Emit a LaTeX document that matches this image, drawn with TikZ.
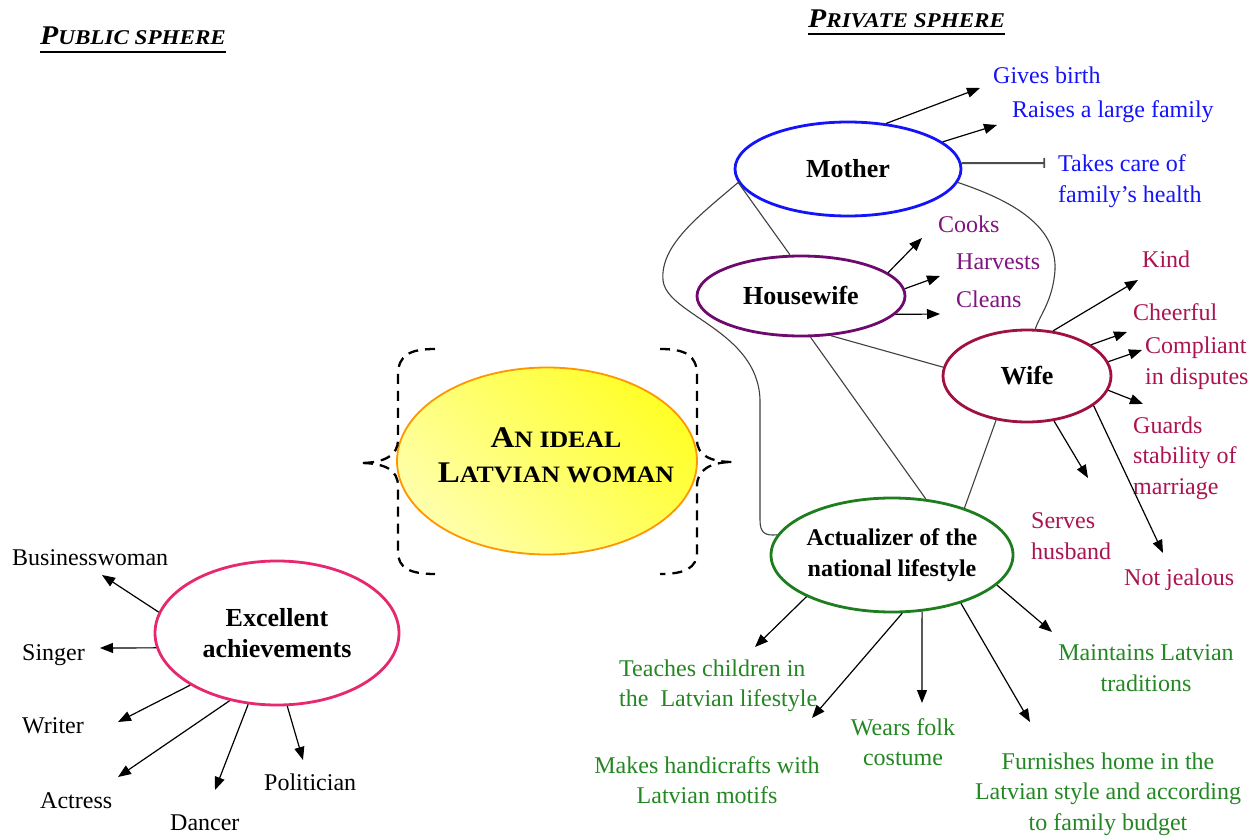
\documentclass[tikz,border=0pt]{standalone}
\usepackage{fontspec}
\setmainfont{Liberation Serif}
\newfontfamily\widefont{Liberation Serif}[FakeStretch=1.1]
\usetikzlibrary{shapes.geometric,arrows.meta}
\definecolor{mblue}{RGB}{20,20,250}
\definecolor{hpurple}{RGB}{110,10,110}
\definecolor{htext}{RGB}{128,20,128}
\definecolor{wred}{RGB}{160,16,64}
\definecolor{wtext}{RGB}{170,20,80}
\definecolor{agreen}{RGB}{30,125,30}
\definecolor{atext}{RGB}{35,135,35}
\definecolor{epink}{RGB}{232,40,110}
\definecolor{corange}{RGB}{255,150,0}
\definecolor{yellowA}{RGB}{255,255,40}
\definecolor{yellowB}{RGB}{255,255,170}
\begin{document}
\begin{tikzpicture}[x=1pt,y=-1pt,
  ell/.style={ellipse, draw, line width=2.8pt, inner sep=0pt, align=center, font=\fontsize{26}{31}\selectfont\bfseries},
  lab/.style={inner sep=0pt, font=\fontsize{24}{30.5}\selectfont},
  arr/.style={line width=1.2pt, -{Triangle[length=13pt,width=10pt]}},
  barr/.style={line width=2pt, draw=black!70, -{Bar[width=10pt,line width=1.6pt]}},
  link/.style={line width=1.1pt, draw=black!75},
  brace/.style={line width=2.3pt, dash pattern=on 10pt off 7pt},
  hdr/.style={inner sep=0pt, font=\widefont\bfseries\itshape},
  uline/.style={line width=2.2pt}
]
\fill[white] (0,0) rectangle (1255,837);
\useasboundingbox (0,0) rectangle (1255,837);

% headers
\node[hdr, anchor=base west] (pub) at (40,45) {{\fontsize{27}{30}\selectfont P}{\fontsize{21}{30}\selectfont UBLIC SPHERE}};
\draw[uline] ([yshift=-7pt]pub.base west) -- ([yshift=-7pt]pub.base east);
\node[hdr, anchor=base west] (priv) at (808,28) {{\fontsize{27}{30}\selectfont P}{\fontsize{21}{30}\selectfont RIVATE SPHERE}};
\draw[uline] ([yshift=-6pt]priv.base west) -- ([yshift=-6pt]priv.base east);

% central
\node[ellipse, draw=corange, line width=1.8pt, minimum width=300pt, minimum height=187pt, top color=yellowA, bottom color=yellowB, shading angle=-45] (ideal) at (547,461) {};
\node[inner sep=0pt, align=center, font=\widefont\bfseries\fontsize{30}{35}\selectfont] (idealtxt) at (556,455)
  {A{\fontsize{23.5}{35}\selectfont N IDEAL}\\L{\fontsize{23.5}{35}\selectfont ATVIAN WOMAN}};
\draw[brace] (435,349) .. controls (410,349) and (398,355) .. (398,375) -- (398,440) .. controls (398,455) and (385,463) .. (360,463) .. controls (385,463) and (398,470) .. (398,486) -- (398,552) .. controls (398,568) and (410,574) .. (435,574);
\draw[brace] (660,349) .. controls (685,349) and (697,355) .. (697,375) -- (697,440) .. controls (697,455) and (710,462) .. (733,462) .. controls (710,462) and (697,470) .. (697,486) -- (697,552) .. controls (697,568) and (685,574) .. (660,574);

% main nodes
\node[ell, draw=mblue, minimum width=226pt, minimum height=94pt] (mother) at (848,169) {Mother};
\node[ell, draw=hpurple, minimum width=208pt, minimum height=80pt] (house) at (801,296) {Housewife};
\node[ell, draw=wred, minimum width=168pt, minimum height=92pt] (wife) at (1027,376) {Wife};
\node[ell, draw=agreen, minimum width=242pt, minimum height=114pt, font=\fontsize{24}{31}\selectfont\bfseries] (act) at (892,555) {Actualizer of the\\national lifestyle};
\node[ell, draw=epink, minimum width=244pt, minimum height=144pt] (exc) at (277,633) {Excellent\\achievements};

% links
\draw[link] (mother.187) .. controls (700,215) and (660,245) .. (663,280) .. controls (666,315) and (758,330) .. (760,400) -- (760,520) .. controls (760,533) and (765,536) .. (act.170);
\draw[link] (mother.187) -- (house.105);
\draw[link] (mother.-7) .. controls (1010,200) and (1057,225) .. (1055,270) .. controls (1053,300) and (1040,315) .. (wife.80);
\draw[link] (house.-53) -- (wife.174);
\draw[link] (house.-77) -- (act.59);
\draw[link] (wife.235) -- (act.33);

% labels
\node[lab, text=mblue, anchor=west] (gb) at (993,75) {Gives birth};
\node[lab, text=mblue, anchor=west] (rf) at (1012,112) {Raises a large family};
\node[lab, text=mblue, anchor=west, align=left] (tc) at (1058,181) {Takes care of\\family’s health};
\node[lab, text=htext, anchor=west] (ck) at (938,224) {Cooks};
\node[lab, text=htext, anchor=west] (hv) at (956,262) {Harvests};
\node[lab, text=htext, anchor=west] (cl) at (956,299) {Cleans};
\node[lab, text=wtext, anchor=west] (ki) at (1142,259) {Kind};
\node[lab, text=wtext, anchor=west] (ch) at (1133,312) {Cheerful};
\node[lab, text=wtext, anchor=west, align=left] (co) at (1145,363) {Compliant\\in disputes};
\node[lab, text=wtext, anchor=west, align=left] (gu) at (1133,458) {Guards\\stability of\\marriage};
\node[lab, text=wtext, anchor=west, align=left] (se) at (1031,536) {Serves\\husband};
\node[lab, text=wtext, anchor=west] (nj) at (1124,580) {Not jealous};
\node[lab, text=atext, anchor=west, align=left] (te) at (619,686) {Teaches children in\\the~~Latvian lifestyle};
\node[lab, text=atext, align=center] (ma) at (707,780) {Makes handicrafts with\\Latvian motifs};
\node[lab, text=atext, align=center] (we) at (903,742) {Wears folk\\costume};
\node[lab, text=atext, align=center] (fu) at (1108,794) {Furnishes home in the\\Latvian style and according\\to family budget};
\node[lab, text=atext, align=center] (ml) at (1146,668) {Maintains Latvian\\traditions};
\node[lab, anchor=west] (bu) at (12,558) {Businesswoman};
\node[lab, anchor=west] (si) at (22,655) {Singer};
\node[lab, anchor=west] (wr) at (22,726) {Writer};
\node[lab, anchor=west] (ac) at (40,801) {Actress};
\node[lab, anchor=west] (da) at (170,823) {Dancer};
\node[lab, anchor=west] (po) at (264,782) {Politician};

% arrow tip coordinates
\coordinate (gbT) at (980,88);
\coordinate (rfT) at (997,125);
\coordinate (tcT) at (1045,163);
\coordinate (ckT) at (922,238);
\coordinate (hvT) at (940,276);
\coordinate (clT) at (940,314);
\coordinate (kiT) at (1138,280);
\coordinate (chT) at (1127,332);
\coordinate (coT) at (1142,350);
\coordinate (guT) at (1143,404);
\coordinate (seT) at (1088,478);
\coordinate (njT) at (1163,553);
\coordinate (teT) at (755,647);
\coordinate (maT) at (812,718);
\coordinate (weT) at (922,703);
\coordinate (fuT) at (1030,722);
\coordinate (mlT) at (1052,632);
\coordinate (buT) at (102,575);
\coordinate (siT) at (100,648);
\coordinate (wrT) at (118,722);
\coordinate (acT) at (118,777);
\coordinate (daT) at (215,790);
\coordinate (poT) at (303,760);

% arrows
\draw[arr] (mother.50) -- (gbT);
\draw[arr] (mother.16) -- (rfT);
\draw[barr] (mother.3) -- (tcT);
\draw[arr] (house.15) -- (ckT);
\draw[arr] (house.4) -- (hvT);
\draw[arr] (house.-11) -- (clT);
\draw[arr] (wife.60) -- (kiT);
\draw[arr] (wife.26) -- (chT);
\draw[arr] (wife.10) -- (coT);
\draw[arr] (wife.-10) -- (guT);
\draw[arr] (wife.-59) -- (seT);
\draw[arr] (wife.-24) -- (njT);
\draw[arr] (act.206) -- (teT);
\draw[arr] (act.-80) -- (maT);
\draw[arr] (act.-62) -- (weT);
\draw[arr] (act.-35) -- (fuT);
\draw[arr] (act.-16) -- (mlT);
\draw[arr] (exc.170) -- (buT);
\draw[arr] (exc.187) -- (siT);
\draw[arr] (exc.211) -- (wrT);
\draw[arr] (exc.235) -- (acT);
\draw[arr] (exc.248) -- (daT);
\draw[arr] (exc.-82) -- (poT);
\end{tikzpicture}
\end{document}
